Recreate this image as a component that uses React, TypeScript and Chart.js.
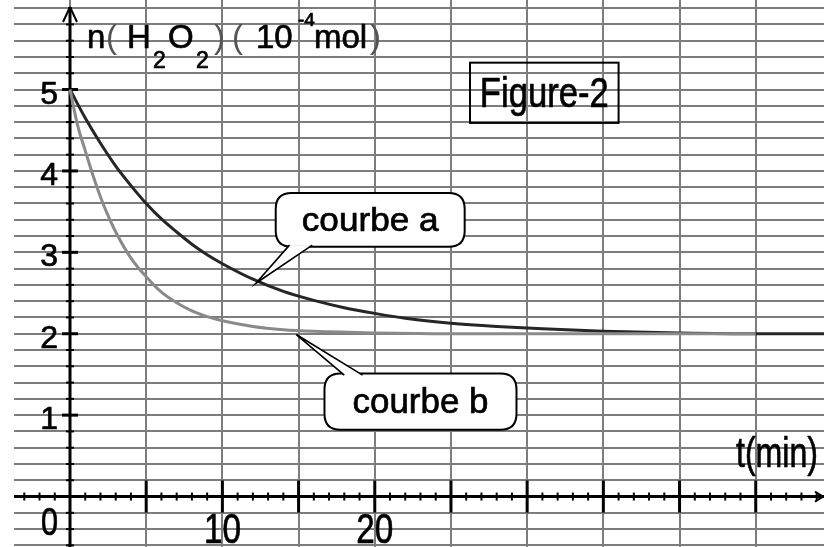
import React, { useEffect, useRef } from "react";
import { Chart, registerables } from "chart.js";

Chart.register(...registerables);

// ---- data ----
const timeA = [0, 1, 2, 3, 4, 5, 6, 7, 8, 9, 10, 12, 14, 16, 18, 20, 22, 25, 28, 31, 35, 40, 45, 49.5];
const nA = [5.0, 4.65, 4.34, 4.06, 3.82, 3.6, 3.41, 3.25, 3.1, 2.97, 2.86, 2.67, 2.52, 2.41, 2.32, 2.25, 2.19, 2.13, 2.09, 2.06, 2.03, 2.01, 2.0, 2.0];

const timeB = [0, 0.5, 1, 1.5, 2, 2.5, 3, 4, 5, 6, 7, 8, 9, 10, 12, 14, 16, 20, 25, 30, 35, 40, 45];
const nB = [5.0, 4.56, 4.25, 3.95, 3.68, 3.45, 3.25, 2.93, 2.7, 2.51, 2.38, 2.28, 2.21, 2.16, 2.09, 2.05, 2.03, 2.01, 2.0, 2.0, 2.0, 2.0, 2.0];

const gridX = [0, 5, 10, 15, 20, 25, 30, 35, 40, 45];
const gridY = [-0.6, -0.4, -0.2, 0, 0.2, 0.4, 0.6, 0.8, 1, 1.2, 1.4, 1.6, 1.8, 2, 2.2, 2.4, 2.6, 2.8, 3, 3.2, 3.4, 3.6, 3.8, 4, 4.2, 4.4, 4.6, 4.8, 5, 5.2, 5.4, 5.6, 5.8, 6];
const yTickLabels = [1, 2, 3, 4, 5];
const xTickLabels = [10, 20];
const labelA = "courbe a";
const labelB = "courbe b";
const figureLabel = "Figure-2";
const xAxisLabel = "t(min)";

const X_MIN = -3.675;
const X_MAX = 49.48;
const Y_MIN = -0.62;
const Y_MAX = 6.1;

const FONT = '"Liberation Sans", Arial, Helvetica, sans-serif';

function txt(
  ctx: CanvasRenderingContext2D,
  s: string,
  x: number,
  y: number,
  size: number,
  opts: { w?: number; align?: "left" | "center" | "right"; color?: string; stroke?: number } = {}
) {
  ctx.save();
  ctx.font = `${size}px ${FONT}`;
  ctx.textBaseline = "alphabetic";
  ctx.textAlign = "left";
  const color = opts.color || "#000";
  ctx.fillStyle = color;
  const nat = ctx.measureText(s).width;
  const sx = opts.w ? opts.w / nat : 1;
  const width = nat * sx;
  const align = opts.align || "left";
  const left = align === "center" ? x - width / 2 : align === "right" ? x - width : x;
  ctx.translate(left, y);
  ctx.scale(sx, 1);
  ctx.fillText(s, 0, 0);
  const sw = opts.stroke === undefined ? 0.7 : opts.stroke;
  if (sw > 0) {
    ctx.strokeStyle = color;
    ctx.lineWidth = sw;
    ctx.lineJoin = "round";
    ctx.strokeText(s, 0, 0);
  }
  ctx.restore();
}

function seg(ctx: CanvasRenderingContext2D, x1: number, y1: number, x2: number, y2: number) {
  ctx.beginPath();
  ctx.moveTo(x1, y1);
  ctx.lineTo(x2, y2);
  ctx.stroke();
}

function roundRect(ctx: CanvasRenderingContext2D, x1: number, y1: number, x2: number, y2: number, r: number) {
  ctx.beginPath();
  ctx.moveTo(x1 + r, y1);
  ctx.lineTo(x2 - r, y1);
  ctx.quadraticCurveTo(x2, y1, x2, y1 + r);
  ctx.lineTo(x2, y2 - r);
  ctx.quadraticCurveTo(x2, y2, x2 - r, y2);
  ctx.lineTo(x1 + r, y2);
  ctx.quadraticCurveTo(x1, y2, x1, y2 - r);
  ctx.lineTo(x1, y1 + r);
  ctx.quadraticCurveTo(x1, y1, x1 + r, y1);
  ctx.closePath();
}

function callout(
  ctx: CanvasRenderingContext2D,
  box: [number, number, number, number],
  baseA: [number, number],
  baseB: [number, number],
  tip: [number, number]
) {
  const [x1, y1, x2, y2] = box;
  ctx.save();
  roundRect(ctx, x1, y1, x2, y2, 16);
  ctx.fillStyle = "#fff";
  ctx.fill();
  ctx.strokeStyle = "#000";
  ctx.lineWidth = 2;
  ctx.stroke();
  // pointer
  ctx.beginPath();
  ctx.moveTo(baseA[0], baseA[1]);
  ctx.lineTo(tip[0], tip[1]);
  ctx.lineTo(baseB[0], baseB[1]);
  ctx.closePath();
  ctx.fillStyle = "#fff";
  ctx.fill();
  ctx.lineWidth = 1.6;
  ctx.beginPath();
  ctx.moveTo(baseA[0], baseA[1]);
  ctx.lineTo(tip[0], tip[1]);
  ctx.lineTo(baseB[0], baseB[1]);
  ctx.stroke();
  ctx.restore();
}

const overlay = {
  id: "overlay",
  beforeDatasetsDraw(chart: any) {
    const ctx: CanvasRenderingContext2D = chart.ctx;
    const xs = chart.scales.x;
    const ys = chart.scales.y;
    const X = (v: number) => xs.getPixelForValue(v);
    const Y = (v: number) => ys.getPixelForValue(v);
    const { left, right, bottom } = chart.chartArea;
    const ax = X(0);
    const ay = Y(0);
    ctx.save();
    ctx.strokeStyle = "#000";
    ctx.lineCap = "butt";
    // minor ticks x
    ctx.lineWidth = 2;
    for (let t = Math.ceil(X_MIN); t <= Math.floor(X_MAX); t++) {
      if (t % 5 !== 0) seg(ctx, X(t), ay - 4, X(t), ay + 4);
    }
    // major ticks x
    ctx.lineWidth = 3;
    for (let t = 5; t <= X_MAX; t += 5) seg(ctx, X(t), ay - 16, X(t), ay + 16);
    // minor ticks y
    ctx.lineWidth = 2;
    for (let k = -3; k <= 30; k++) {
      const v = k / 5;
      if (k % 5 !== 0) seg(ctx, ax - 4, Y(v), ax + 4, Y(v));
    }
    ctx.lineWidth = 3;
    for (let v = 1; v <= 5; v++) seg(ctx, ax - 8, Y(v), ax + 8, Y(v));
    // axes
    ctx.lineWidth = 3;
    seg(ctx, left, ay, right, ay);
    seg(ctx, ax, 7, ax, bottom);
    // arrows
    ctx.lineWidth = 2;
    seg(ctx, ax, 7, ax - 7, 22);
    seg(ctx, ax, 7, ax + 7, 22);
    seg(ctx, right - 1, ay, right - 9, ay - 5);
    seg(ctx, right - 1, ay, right - 9, ay + 5);
    ctx.restore();
  },
  afterDatasetsDraw(chart: any) {
    const ctx: CanvasRenderingContext2D = chart.ctx;
    const xs = chart.scales.x;
    const ys = chart.scales.y;
    const X = (v: number) => xs.getPixelForValue(v);
    const Y = (v: number) => ys.getPixelForValue(v);
    const ax = X(0);
    const ay = Y(0);

    // callout a
    callout(
      ctx,
      [X(13.5), Y(3.73), X(25.9), Y(3.07)],
      [X(14.4), Y(3.07) - 1.5],
      [X(15.9), Y(3.07) - 1.5],
      [X(12.2), Y(2.62)]
    );
    txt(ctx, labelA, (X(13.5) + X(25.9)) / 2, Y(3.07) - 16, 34, { align: "center", w: 137 });

    // callout b
    callout(
      ctx,
      [X(16.7), Y(1.51), X(29.3), Y(0.82)],
      [X(18.0), Y(1.51) + 1.5],
      [X(19.2), Y(1.51) + 1.5],
      [X(14.85), Y(1.99)]
    );
    txt(ctx, labelB, (X(16.7) + X(29.3)) / 2, Y(0.82) - 17, 35, { align: "center", w: 136 });

    // Figure-2 box
    ctx.save();
    ctx.strokeStyle = "#000";
    ctx.lineWidth = 2;
    const fx1 = X(26.25), fx2 = X(36.0), fy1 = Y(5.33), fy2 = Y(4.59);
    ctx.strokeRect(fx1, fy1, fx2 - fx1, fy2 - fy1);
    ctx.restore();
    txt(ctx, figureLabel, (fx1 + fx2) / 2, fy1 + 44, 43, { align: "center", w: 129 });

    // y tick labels
    yTickLabels.forEach((v) => {
      txt(ctx, String(v), ax - 12, Y(v) + 14, 32, { align: "right" });
    });
    txt(ctx, "0", ax - 12, ay + 38, 38, { align: "right", w: 17 });
    // x tick labels
    xTickLabels.forEach((v) => {
      txt(ctx, String(v), X(v), ay + 46, 42, { align: "center", w: 37 });
    });
    // x axis label
    txt(ctx, xAxisLabel, 818, ay - 30, 43, { align: "right", w: 82 });

    // y axis title: n( H2O2 )( 10^-4 mol)
    const base = 48;
    const sub = 68;
    txt(ctx, "n", 87, base, 33);
    txt(ctx, "(", 106, base, 33, { color: "#555", stroke: 0 });
    txt(ctx, "H", 127, base, 33);
    txt(ctx, "2", 153, sub, 23);
    txt(ctx, "O", 168, base, 33);
    txt(ctx, "2", 196, sub, 23);
    txt(ctx, ")", 214, base, 33, { color: "#555", stroke: 0 });
    txt(ctx, "(", 232, base, 33, { color: "#555", stroke: 0 });
    txt(ctx, "10", 256, base, 33);
    txt(ctx, "-4", 298, 26, 19);
    txt(ctx, "mol", 314, base, 33);
    txt(ctx, ")", 370, base, 33, { color: "#555", stroke: 0 });
  },
};

export default function App() {
  const ref = useRef<HTMLCanvasElement>(null);

  useEffect(() => {
    if (!ref.current) return;
    const chart = new Chart(ref.current, {
      type: "line",
      data: {
        datasets: [
          {
            label: labelB,
            data: timeB.map((t, i) => ({ x: t, y: nB[i] })),
            borderColor: "#8a8a8a",
            borderWidth: 3,
            pointRadius: 0,
            cubicInterpolationMode: "monotone",
            fill: false,
          },
          {
            label: labelA,
            data: timeA.map((t, i) => ({ x: t, y: nA[i] })),
            borderColor: "#262626",
            borderWidth: 3,
            pointRadius: 0,
            cubicInterpolationMode: "monotone",
            fill: false,
          },
        ],
      },
      options: {
        animation: false,
        responsive: false,
        maintainAspectRatio: false,
        layout: { padding: { left: 14, right: 0, top: 0, bottom: 0 } },
        plugins: {
          legend: { display: false },
          title: { display: false },
          tooltip: { enabled: false },
        },
        scales: {
          x: {
            type: "linear",
            min: X_MIN,
            max: X_MAX,
            border: { display: false },
            ticks: { display: false },
            grid: { color: "#7d7d7d", lineWidth: 2, drawTicks: false, tickLength: 0 },
            afterBuildTicks: (s: any) => {
              s.ticks = gridX.map((v) => ({ value: v }));
            },
          },
          y: {
            type: "linear",
            min: Y_MIN,
            max: Y_MAX,
            border: { display: false },
            ticks: { display: false },
            grid: { color: "#7d7d7d", lineWidth: 2, drawTicks: false, tickLength: 0 },
            afterBuildTicks: (s: any) => {
              s.ticks = gridY.map((v) => ({ value: v }));
            },
          },
        },
      },
      plugins: [overlay],
    });
    return () => chart.destroy();
  }, []);

  return (
    <div style={{ position: "fixed", left: 0, top: 0, width: 824, height: 547, background: "#fff" }}>
      <canvas ref={ref} width={824} height={547} style={{ display: "block", width: 824, height: 547 }} />
    </div>
  );
}
